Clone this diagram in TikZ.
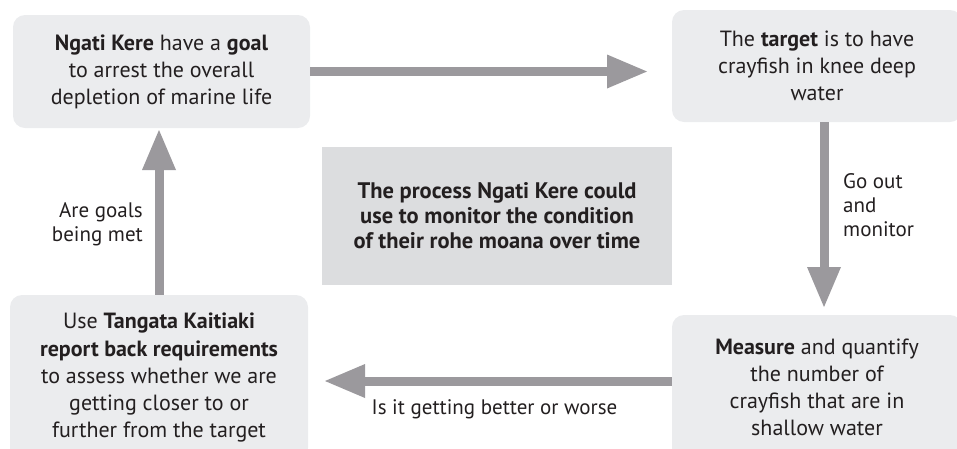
\documentclass[tikz,border=0pt]{standalone}
\usepackage{fontspec}
\setmainfont{PT Sans}
\usetikzlibrary{arrows.meta}

\definecolor{boxgrey}{HTML}{EBECEE}
\definecolor{titlegrey}{HTML}{DCDDDF}
\definecolor{arrowgrey}{HTML}{9B999D}
\definecolor{ink}{HTML}{231F20}

\begin{document}
\begin{tikzpicture}[
    x=1pt, y=-1pt,
    every node/.style={text=ink, inner sep=0pt},
    box/.style={fill=boxgrey, rounded corners=12pt, align=center,
      font=\fontsize{22}{27}\selectfont},
    title/.style={fill=titlegrey, align=center,
      font=\fontsize{22.5}{25}\selectfont\bfseries},
    note/.style={font=\fontsize{21}{24}\selectfont},
    flow/.style={draw=arrowgrey, line width=9pt,
      -{Triangle[length=40pt, width=34pt, line width=0pt]}}
  ]
  \useasboundingbox (0, 0) rectangle (957, 448);

  % the four steps
  \node [box, minimum width=297pt, minimum height=113pt] (goal) at (161.5, 71.5)
    {\textbf{Ngati Kere} have a \textbf{goal}\\to arrest the overall\\depletion of marine life};
  \node [box, minimum width=290pt, minimum height=112pt] (target) at (817, 66)
    {The \textbf{target} is to have\\crayfish in knee deep\\water};
  \node [box, minimum width=290pt, minimum height=145pt] (measure) at (817, 387.5)
    {\textbf{Measure} and quantify\\the number of\\crayfish that are in\\shallow water};
  \node [box, minimum width=298pt, minimum height=165pt] (report) at (159, 377.5)
    {Use \textbf{Tangata Kaitiaki}\\\textbf{report back requirements}\\to assess whether we are\\getting closer to or\\further from the target};

  % title in the middle
  \node [title, minimum width=350pt, minimum height=138pt] (process) at (497, 216)
    {The process Ngati Kere could\\use to monitor the condition\\of their rohe moana over time};

  % arrow ends
  \coordinate (goaltip) at (647, 71.5);
  \coordinate (targettip) at (824, 307);
  \coordinate (measuretip) at (325, 381);
  \coordinate (reporttip) at (159, 130);

  % cycle
  \draw [flow] (goal.east) -- (goaltip);
  \draw [flow] ([xshift=7pt]target.south) -- (targettip);
  \draw [flow] ([yshift=6.5pt]measure.west) -- (measuretip);
  \draw [flow] (report.north) -- (reporttip);

  % arrow labels
  \node [note, align=left, anchor=west] (goout) at (843, 205) {Go out\\and\\monitor};
  \node [note, anchor=base] (better) at (494.5, 414) {Is it getting better or worse};
  \node [note, align=right, anchor=east] (met) at (143, 224.5) {Are goals\\being met};
\end{tikzpicture}
\end{document}
